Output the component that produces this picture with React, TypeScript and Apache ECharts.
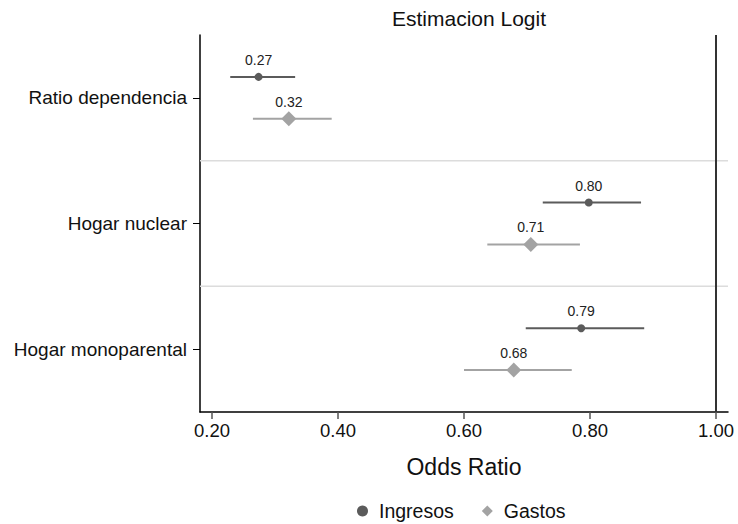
import React, { useEffect, useRef } from "react";
import * as echarts from "echarts";

const categories = ["Ratio dependencia", "Hogar nuclear", "Hogar monoparental"];
const ingresosOR = [0.274, 0.798, 0.786];
const ingresosLo = [0.229, 0.725, 0.698];
const ingresosHi = [0.332, 0.881, 0.886];
const gastosOR = [0.322, 0.706, 0.679];
const gastosLo = [0.265, 0.637, 0.6];
const gastosHi = [0.39, 0.784, 0.771];
const xTicks = [0.2, 0.4, 0.6, 0.8, 1.0];

const FONT = "Liberation Sans, Arial, sans-serif";
const C_ING = "#5b5b5b";
const C_GAS = "#a3a3a3";

function makeRender(color: string, sign: number, marker: "circle" | "diamond", drawSep: boolean) {
  return (params: any, api: any) => {
    const idx = api.value(0);
    const est = api.value(1);
    const lo = api.value(2);
    const hi = api.value(3);
    const band = api.size([0, 1])[1];
    const c = api.coord([est, idx]);
    const off = (sign * band) / 6;
    const y = c[1] + off;
    const pLo = api.coord([lo, idx]);
    const pHi = api.coord([hi, idx]);
    const cs = params.coordSys;
    const children: any[] = [];
    if (drawSep && idx > 0) {
      const yb = c[1] - band / 2;
      children.push({
        type: "line",
        shape: { x1: cs.x, y1: yb, x2: cs.x + cs.width, y2: yb },
        style: { stroke: "#dcdcdc", lineWidth: 1.5 },
        silent: true,
      });
    }
    children.push({
      type: "line",
      shape: { x1: pLo[0], y1: y, x2: pHi[0], y2: y },
      style: { stroke: color, lineWidth: 2 },
    });
    if (marker === "circle") {
      children.push({
        type: "circle",
        shape: { cx: c[0], cy: y, r: 4 },
        style: { fill: color },
      });
    } else {
      const r = 7.5;
      children.push({
        type: "polygon",
        shape: {
          points: [
            [c[0], y - r],
            [c[0] + r, y],
            [c[0], y + r],
            [c[0] - r, y],
          ],
        },
        style: { fill: color },
      });
    }
    children.push({
      type: "text",
      x: c[0],
      y: y - 17,
      style: {
        text: est.toFixed(2),
        fill: "#222",
        font: `14px ${FONT}`,
        align: "center",
        verticalAlign: "middle",
      },
    });
    return { type: "group", children };
  };
}

export default function App() {
  const ref = useRef<HTMLDivElement>(null);
  useEffect(() => {
    const chart = echarts.init(ref.current!, null, { renderer: "svg" });
    const ingData = categories.map((_, i) => [i, ingresosOR[i], ingresosLo[i], ingresosHi[i]]);
    const gasData = categories.map((_, i) => [i, gastosOR[i], gastosLo[i], gastosHi[i]]);
    chart.setOption({
      animation: false,
      backgroundColor: "#ffffff",
      title: {
        text: "Estimacion Logit",
        left: 464,
        textAlign: "center",
        top: 3,
        textStyle: { fontFamily: FONT, fontSize: 21, fontWeight: "normal", color: "#111" },
      },
      legend: {
        top: 496,
        left: 352,
        itemGap: 28,
        itemWidth: 11,
        itemHeight: 11,
        textStyle: { fontFamily: FONT, fontSize: 19.5, color: "#111", padding: [0, 0, 0, 6] },
        data: [
          { name: "Ingresos", icon: "circle", itemStyle: { color: C_ING } },
          { name: "Gastos", icon: "diamond", itemStyle: { color: C_GAS } },
        ],
      },
      grid: { left: 200, right: 10, top: 35, bottom: 112, containLabel: false },
      xAxis: {
        type: "value",
        min: 0.181,
        max: 1.019,
        name: "Odds Ratio",
        nameLocation: "middle",
        nameGap: 43,
        nameTextStyle: { fontFamily: FONT, fontSize: 23, color: "#111" },
        axisLine: { show: true, lineStyle: { color: "#000", width: 1.5 } },
        axisTick: { show: true, length: 7, customValues: xTicks, lineStyle: { color: "#555", width: 1.5 } },
        axisLabel: {
          customValues: xTicks,
          formatter: (v: number) => v.toFixed(2),
          fontFamily: FONT,
          fontSize: 18.5,
          color: "#111",
          margin: 9,
        },
        splitLine: { show: false },
      },
      yAxis: {
        type: "category",
        data: categories,
        inverse: true,
        axisLine: { show: true, lineStyle: { color: "#000", width: 1.5 } },
        axisTick: { show: true, alignWithLabel: true, length: 7, lineStyle: { color: "#000" } },
        axisLabel: { fontFamily: FONT, fontSize: 19, color: "#111", margin: 13 },
        splitLine: { show: false },
      },
      series: [
        {
          name: "Ingresos",
          type: "custom",
          itemStyle: { color: C_ING },
          encode: { x: [1, 2, 3], y: 0 },
          renderItem: makeRender(C_ING, -1, "circle", true),
          data: ingData,
          markLine: {
            silent: true,
            symbol: "none",
            label: { show: false },
            lineStyle: { color: "#333", width: 2, type: "solid" },
            data: [{ xAxis: 1.0 }],
          },
        },
        {
          name: "Gastos",
          type: "custom",
          itemStyle: { color: C_GAS },
          encode: { x: [1, 2, 3], y: 0 },
          renderItem: makeRender(C_GAS, 1, "diamond", false),
          data: gasData,
        },
      ],
    });
    return () => chart.dispose();
  }, []);
  return (
    <div
      ref={ref}
      style={{ position: "absolute", left: 0, top: 0, width: 738, height: 524 }}
    />
  );
}
